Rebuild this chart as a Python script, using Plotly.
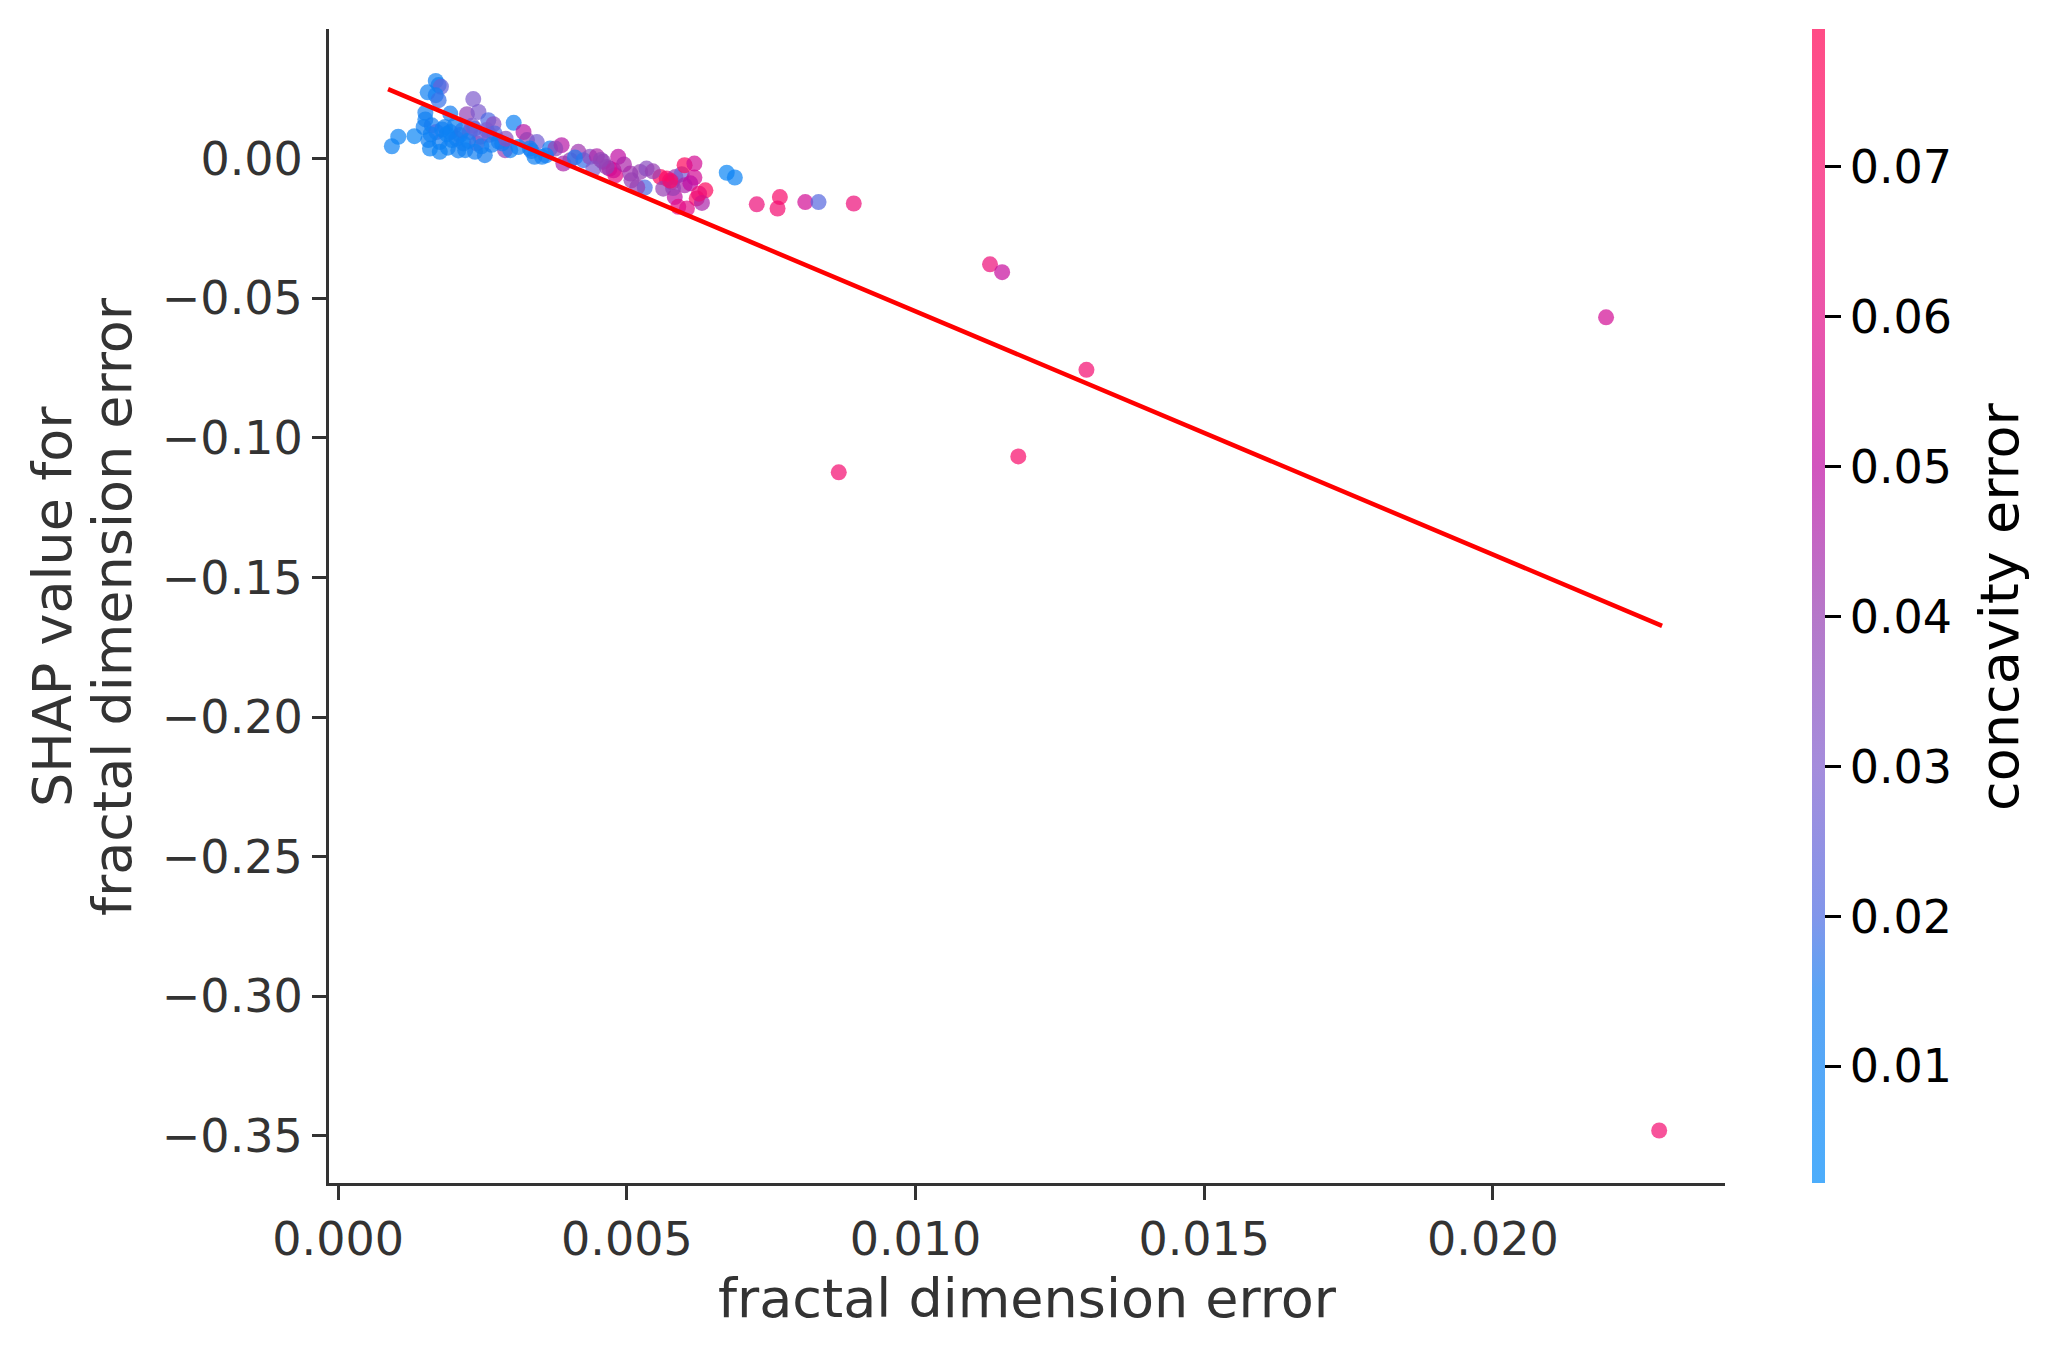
import plotly.graph_objects as go

# ---- data ----
fractal_dimension_error = [
    0.00093, 0.00104, 0.00132, 0.00169, 0.00174, 0.00178, 0.00155, 0.00169, 0.00174, 0.00234,
    0.00151, 0.00151, 0.00194, 0.00223, 0.00243, 0.00260, 0.00269, 0.00304, 0.00148, 0.00162,
    0.00170, 0.00185, 0.00194, 0.00202, 0.00211, 0.00228, 0.00246, 0.00257, 0.00271, 0.00156,
    0.00176, 0.00197, 0.00217, 0.00240, 0.00159, 0.00176, 0.00220, 0.00237, 0.00254, 0.00289,
    0.00298, 0.00284, 0.00321, 0.00327, 0.00344, 0.00332, 0.00340, 0.00353, 0.00367, 0.00387,
    0.00376, 0.00390, 0.00402, 0.00416, 0.00425, 0.00436, 0.00448, 0.00459, 0.00470, 0.00485,
    0.00480, 0.00442, 0.00477, 0.00465, 0.00506, 0.00523, 0.00534, 0.00508, 0.00531, 0.00558,
    0.00569, 0.00584, 0.00578, 0.00595, 0.00563, 0.00600, 0.00617, 0.00617, 0.00600, 0.00636,
    0.00621, 0.00630, 0.00583, 0.00589, 0.00604, 0.00673, 0.00687, 0.00725, 0.00765, 0.00761,
    0.00809, 0.00832, 0.00893, 0.00518, 0.00580, 0.01129, 0.01150, 0.02196, 0.01296, 0.00867,
    0.01178, 0.02288,
    0.00180, 0.00188, 0.00205, 0.00215, 0.00225, 0.00232, 0.00248, 0.00262, 0.00278, 0.00290,
    0.00160, 0.00190, 0.00208, 0.00236, 0.00266, 0.00312, 0.00335, 0.00360, 0.00410, 0.00455,
    0.00495, 0.00545, 0.00575, 0.00610, 0.00625,
]
shap_value = [
    0.0045, 0.0079, 0.0081, 0.0279, 0.0264, 0.0258, 0.0238, 0.0228, 0.0210, 0.0214,
    0.0165, 0.0141, 0.0162, 0.0160, 0.0168, 0.0138, 0.0124, 0.0129, 0.0114, 0.0120,
    0.0096, 0.0114, 0.0096, 0.0120, 0.0085, 0.0096, 0.0079, 0.0103, 0.0091, 0.0067,
    0.0060, 0.0067, 0.0055, 0.0055, 0.0037, 0.0025, 0.0031, 0.0025, 0.0013, 0.0031,
    0.0031, 0.0055, 0.0096, 0.0067, 0.0060, 0.0037, 0.0007, 0.0007, 0.0037, 0.0049,
    0.0037, -0.0017, -0.0005, 0.0025, -0.0005, 0.0007, 0.0009, -0.0011, -0.0035, 0.0007,
    -0.0059, -0.0035, -0.0041, -0.0029, -0.0053, -0.0047, -0.0035, -0.0077, -0.0103, -0.0065,
    -0.0071, -0.0065, -0.0083, -0.0055, -0.0107, -0.0023, -0.0017, -0.0067, -0.0095, -0.0113,
    -0.0142, -0.0158, -0.0137, -0.0172, -0.0178, -0.0050, -0.0067, -0.0163, -0.0137, -0.0178,
    -0.0155, -0.0155, -0.0160, -0.0102, -0.0105, -0.0378, -0.0406, -0.0568, -0.0756, -0.1123,
    -0.1066, -0.3481,
    0.0105, 0.0088, 0.0072, 0.0102, 0.0064, 0.0118, 0.0045, 0.0086, 0.0062, 0.0072,
    0.0088, 0.0040, 0.0030, 0.0108, 0.0050, 0.0042, 0.0028, 0.0012, 0.0005, -0.0004,
    -0.0020, -0.0045, -0.0078, -0.0088, -0.0125,
]
concavity_error = [
    0.010, 0.009, 0.008, 0.012, 0.014, 0.025, 0.012, 0.013, 0.018, 0.030,
    0.013, 0.012, 0.015, 0.038, 0.030, 0.020, 0.035, 0.011, 0.012, 0.014,
    0.020, 0.012, 0.010, 0.012, 0.015, 0.028, 0.025, 0.030, 0.022, 0.012,
    0.014, 0.013, 0.012, 0.032, 0.010, 0.010, 0.012, 0.013, 0.015, 0.040,
    0.012, 0.014, 0.048, 0.040, 0.028, 0.012, 0.012, 0.012, 0.015, 0.048,
    0.038, 0.045, 0.040, 0.042, 0.018, 0.035, 0.045, 0.040, 0.050, 0.050,
    0.060, 0.030, 0.055, 0.040, 0.042, 0.040, 0.035, 0.040, 0.020, 0.075,
    0.072, 0.042, 0.070, 0.028, 0.040, 0.075, 0.055, 0.055, 0.045, 0.075,
    0.072, 0.045, 0.050, 0.060, 0.060, 0.008, 0.010, 0.065, 0.070, 0.068,
    0.055, 0.022, 0.065, 0.040, 0.040, 0.065, 0.052, 0.055, 0.068, 0.068,
    0.070, 0.068,
    0.012, 0.010, 0.013, 0.016, 0.011, 0.030, 0.012, 0.026, 0.014, 0.035,
    0.011, 0.010, 0.012, 0.022, 0.013, 0.012, 0.014, 0.013, 0.016, 0.038,
    0.045, 0.040, 0.070, 0.050, 0.065,
]
trend_x = [0.000864, 0.02293]
trend_y = [0.02495, -0.1673]

x_tick_vals = [0.000, 0.005, 0.010, 0.015, 0.020]
x_tick_text = ["0.000", "0.005", "0.010", "0.015", "0.020"]
y_tick_vals = [0.00, -0.05, -0.10, -0.15, -0.20, -0.25, -0.30, -0.35]
y_tick_text = ["0.00", "\u22120.05", "\u22120.10", "\u22120.15", "\u22120.20",
               "\u22120.25", "\u22120.30", "\u22120.35"]
cb_tick_vals = [0.01, 0.02, 0.03, 0.04, 0.05, 0.06, 0.07]
cb_tick_text = ["0.01", "0.02", "0.03", "0.04", "0.05", "0.06", "0.07"]

x_label = "fractal dimension error"
y_label_lines = ["SHAP value for", "fractal dimension error"]
cb_label = "concavity error"

# ---- style ----
W, H = 2055, 1357
L, R, T, B = 329, 1725, 29, 1183
cmin, cmax = 0.00222, 0.0792
alpha = 0.7
stops = [
    (0.00222, (0, 138, 250)),
    (0.0150, (20, 125, 240)),
    (0.0200, (76, 105, 226)),
    (0.0300, (126, 91, 205)),
    (0.0400, (150, 62, 178)),
    (0.0500, (191, 12, 162)),
    (0.0600, (226, 12, 134)),
    (0.0700, (248, 10, 105)),
    (0.0792, (255, 0, 82)),
]
colorscale = [[(v - cmin) / (cmax - cmin), f"rgba({c[0]},{c[1]},{c[2]},{alpha})"] for v, c in stops]
colorscale[0][0] = 0.0
colorscale[-1][0] = 1.0

FONT = "DejaVu Sans"
AX = "#333333"
TICK = 46
LAB = 54


def px_x(p):
    return (p - L) / (R - L)


def px_y(p):
    return (B - p) / (B - T)


fig = go.Figure()
fig.add_trace(go.Scatter(
    x=fractal_dimension_error, y=shap_value, mode="markers",
    marker=dict(size=16, color=concavity_error, colorscale=colorscale,
                cmin=cmin, cmax=cmax, line=dict(width=0),
                colorbar=dict(
                    x=px_x(1812), xanchor="left", xpad=0, ypad=0,
                    y=0.5, yanchor="middle", len=1, lenmode="fraction",
                    thickness=13, outlinewidth=0,
                    tickvals=cb_tick_vals, ticktext=cb_tick_text,
                    ticks="outside", ticklen=16, tickwidth=2.5, tickcolor="black",
                    tickfont=dict(family=FONT, size=TICK, color="black"),
                )),
    showlegend=False, hoverinfo="skip",
))
fig.add_trace(go.Scatter(
    x=trend_x, y=trend_y, mode="lines",
    line=dict(color="red", width=4.5), showlegend=False, hoverinfo="skip",
))

annotations = [
    dict(text=x_label, x=px_x(1027), y=px_y(1298), xref="paper", yref="paper",
         showarrow=False, xanchor="center", yanchor="middle",
         font=dict(family=FONT, size=LAB, color=AX)),
    dict(text=y_label_lines[0], x=px_x(52), y=px_y(607), xref="paper", yref="paper",
         showarrow=False, xanchor="center", yanchor="middle", textangle=-90,
         font=dict(family=FONT, size=LAB, color=AX)),
    dict(text=y_label_lines[1], x=px_x(112), y=px_y(607), xref="paper", yref="paper",
         showarrow=False, xanchor="center", yanchor="middle", textangle=-90,
         font=dict(family=FONT, size=LAB, color=AX)),
    dict(text=cb_label, x=px_x(1999), y=px_y(607), xref="paper", yref="paper",
         showarrow=False, xanchor="center", yanchor="middle", textangle=-90,
         font=dict(family=FONT, size=LAB, color="black")),
]

fig.update_layout(
    width=W, height=H,
    margin=dict(l=L, r=W - R, t=T, b=H - B, pad=0),
    paper_bgcolor="white", plot_bgcolor="white",
    font=dict(family=FONT, color=AX),
    annotations=annotations,
    xaxis=dict(range=[-0.000159, 0.02402], tickvals=x_tick_vals, ticktext=x_tick_text,
               showgrid=False, zeroline=False, showline=True, linecolor=AX, linewidth=3,
               ticks="outside", ticklen=14, tickwidth=2.5, tickcolor=AX,
               tickfont=dict(family=FONT, size=TICK, color=AX)),
    yaxis=dict(range=[-0.3669, 0.0465], tickvals=y_tick_vals, ticktext=y_tick_text,
               showgrid=False, zeroline=False, showline=True, linecolor=AX, linewidth=3,
               ticks="outside", ticklen=14, tickwidth=2.5, tickcolor=AX,
               tickfont=dict(family=FONT, size=TICK, color=AX)),
)

fig.write_html("out.html")
